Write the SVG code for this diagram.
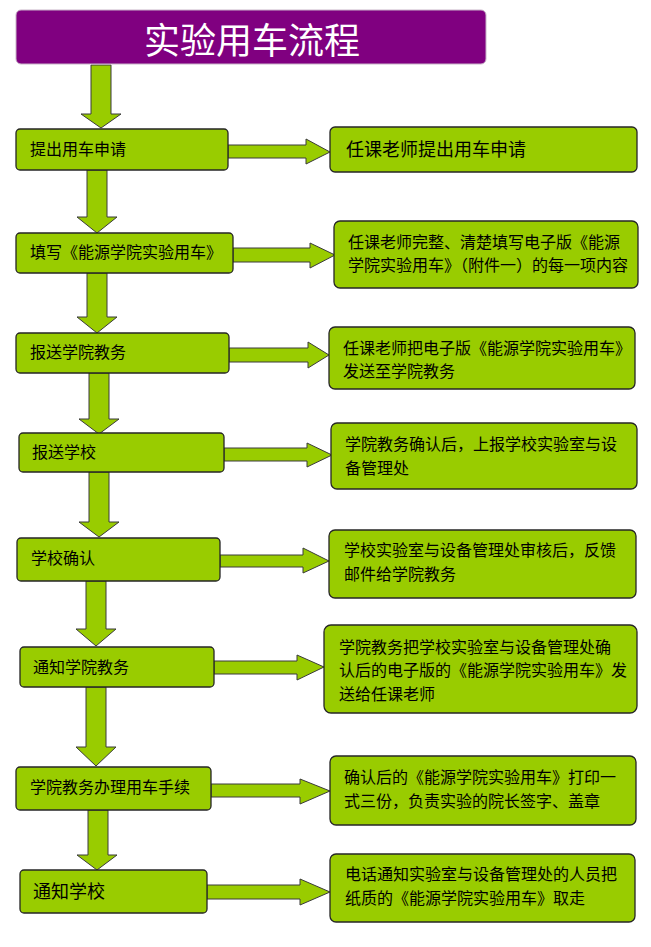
<svg xmlns="http://www.w3.org/2000/svg" width="651" height="947" viewBox="0 0 651 947">
<style>
.bx{fill:#99CC00;stroke:#262626;stroke-width:1.3}
.ar{fill:#99CC00;stroke:#3a3a3a;stroke-width:1}
.t{font-family:"Noto Sans CJK SC","Noto Sans",sans-serif;fill:#000;font-size:16px}
.title{font-family:"Noto Sans CJK SC","Noto Sans",sans-serif;fill:#fff;font-size:36px}
</style>
<rect width="651" height="947" fill="#fff"/>
<g id="connectors">
<polygon class="ar" points="91,65 111,65 111,114 121,114 101,128 81,114 91,114"/>
<polygon class="ar" points="87,170 107,170 107,217 117,217 97,233 77,217 87,217"/>
<polygon class="ar" points="87,273 107,273 107,317 117,317 97,333 77,317 87,317"/>
<polygon class="ar" points="89,373 109,373 109,419 119,419 99,434 79,419 89,419"/>
<polygon class="ar" points="89,472 109,472 109,522 119,522 99,537 79,522 89,522"/>
<polygon class="ar" points="86,581 106,581 106,629 116,629 96,646 76,629 86,629"/>
<polygon class="ar" points="86,687 106,687 106,747 116,747 96,766 76,747 86,747"/>
<polygon class="ar" points="88,810 108,810 108,855 117,855 97,870 77,855 88,855"/>
<polygon class="ar" points="228,145 306,145 306,139 330,152 306,164 306,158 228,158"/>
<polygon class="ar" points="233,248 310,248 310,243 335,255 310,268 310,262 233,262"/>
<polygon class="ar" points="229,348 308,348 308,342 329,355 308,368 308,362 229,362"/>
<polygon class="ar" points="224,448 307,448 307,443 332,455 307,467 307,461 224,461"/>
<polygon class="ar" points="220,555 303,555 303,548 329,561 303,573 303,567 220,567"/>
<polygon class="ar" points="214,661 297,661 297,655 324,667 297,680 297,674 214,674"/>
<polygon class="ar" points="211,784 300,784 300,779 330,791 300,804 300,797 211,797"/>
<polygon class="ar" points="207,885 300,885 300,879 330,892 300,905 300,899 207,899"/>
</g>
<g id="title">
<rect x="16" y="10" width="470" height="54" rx="5" fill="#800080" stroke="#c8b4c8" stroke-width="1"/>
<text class="title" x="252" y="54" text-anchor="middle">实验用车流程</text>
</g>
<g id="step1">
<rect class="bx" x="16" y="129" width="212" height="41" rx="4"/>
<text class="t" x="30" y="155">提出用车申请</text>
</g>
<g id="note1">
<rect class="bx" x="330" y="127" width="307" height="45" rx="5"/>
<text class="t" x="346" y="156" style="font-size:18px">任课老师提出用车申请</text>
</g>
<g id="step2">
<rect class="bx" x="16" y="233" width="217" height="40" rx="4"/>
<text class="t" x="30" y="258">填写《能源学院实验用车》</text>
</g>
<g id="note2">
<rect class="bx" x="334" y="221" width="304" height="67" rx="6"/>
<text class="t" x="348" y="248">任课老师完整、清楚填写电子版《能源</text>
<text class="t" x="348" y="271">学院实验用车》（附件一）的每一项内容</text>
</g>
<g id="step3">
<rect class="bx" x="16" y="333" width="213" height="40" rx="4"/>
<text class="t" x="30" y="358">报送学院教务</text>
</g>
<g id="note3">
<rect class="bx" x="329" y="327" width="306" height="62" rx="6"/>
<text class="t" x="343" y="354">任课老师把电子版《能源学院实验用车》</text>
<text class="t" x="343" y="377">发送至学院教务</text>
</g>
<g id="step4">
<rect class="bx" x="19" y="433" width="205" height="39" rx="4"/>
<text class="t" x="32" y="458">报送学校</text>
</g>
<g id="note4">
<rect class="bx" x="331" y="423" width="306" height="66" rx="6"/>
<text class="t" x="345" y="450">学院教务确认后，上报学校实验室与设</text>
<text class="t" x="345" y="474">备管理处</text>
</g>
<g id="step5">
<rect class="bx" x="17" y="538" width="203" height="43" rx="4"/>
<text class="t" x="31" y="564">学校确认</text>
</g>
<g id="note5">
<rect class="bx" x="329" y="530" width="307" height="68" rx="6"/>
<text class="t" x="344" y="556">学校实验室与设备管理处审核后，反馈</text>
<text class="t" x="344" y="580">邮件给学院教务</text>
</g>
<g id="step6">
<rect class="bx" x="20" y="647" width="194" height="40" rx="4"/>
<text class="t" x="33" y="673">通知学院教务</text>
</g>
<g id="note6">
<rect class="bx" x="324" y="625" width="313" height="88" rx="7"/>
<text class="t" x="339" y="653">学院教务把学校实验室与设备管理处确</text>
<text class="t" x="339" y="676">认后的电子版的《能源学院实验用车》发</text>
<text class="t" x="339" y="700">送给任课老师</text>
</g>
<g id="step7">
<rect class="bx" x="16" y="767" width="195" height="43" rx="4"/>
<text class="t" x="30" y="793">学院教务办理用车手续</text>
</g>
<g id="note7">
<rect class="bx" x="330" y="756" width="306" height="69" rx="6"/>
<text class="t" x="344" y="783">确认后的《能源学院实验用车》打印一</text>
<text class="t" x="344" y="807">式三份，负责实验的院长签字、盖章</text>
</g>
<g id="step8">
<rect class="bx" x="20" y="870" width="187" height="43" rx="4"/>
<text class="t" x="33" y="898" style="font-size:18px">通知学校</text>
</g>
<g id="note8">
<rect class="bx" x="330" y="854" width="305" height="68" rx="6"/>
<text class="t" x="345" y="880">电话通知实验室与设备管理处的人员把</text>
<text class="t" x="345" y="904">纸质的《能源学院实验用车》取走</text>
</g>
</svg>
